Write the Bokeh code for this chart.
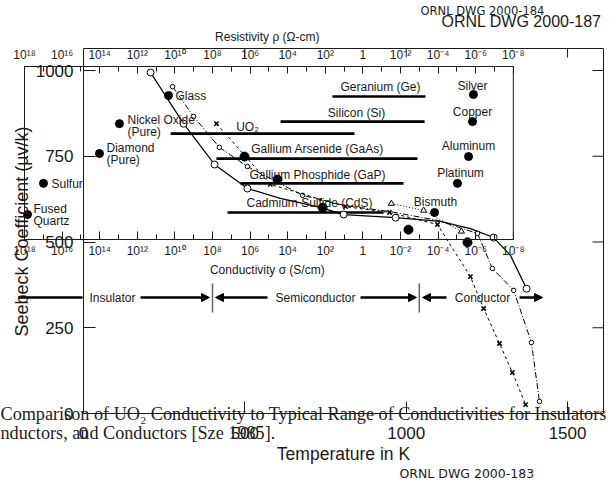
import math
from bokeh.plotting import figure
from bokeh.models import (Range1d, LinearAxis, FixedTicker, Label, Arrow,
                          NormalHead, ColumnDataSource)
from bokeh.embed import file_html
from bokeh.resources import INLINE
from bokeh.core.properties import value

# ---------------- outer chart: UO2 Seebeck coefficient vs temperature ----------------
temp_ticks = [0, 500, 1000, 1500]
seebeck_ticks = [0, 250, 500, 750, 1000]

solid_T = [208, 310, 406, 508, 806, 967, 1271, 1373]
solid_S = [994, 845, 726, 656, 580, 571, 513, 364]
solid_curve_T = [208, 310, 406, 508, 610, 734, 806, 967, 1106, 1199, 1271, 1323, 1373]
solid_curve_S = [994, 845, 726, 656, 627, 601, 580, 571, 560, 539, 513, 461, 364]

dashdot_T = [276, 341, 421, 508, 679, 1221, 1267, 1333, 1388, 1413]
dashdot_S = [953, 866, 776, 720, 636, 525, 423, 359, 207, 35]
dashdot_curve_T = [276, 341, 421, 508, 679, 812, 948, 1097, 1221, 1267, 1333, 1388, 1413]
dashdot_curve_S = [953, 866, 776, 720, 636, 606, 589, 563, 525, 423, 359, 207, 35]

dashed_T = [412, 579, 812, 948, 1097, 1199, 1240, 1289, 1329, 1370]
dashed_S = [845, 668, 603, 586, 551, 399, 306, 204, 120, 26]

dotted_T = [954, 1054, 1171]
dotted_S = [612, 592, 531]

filled_T = [499, 601, 741, 1007, 1190]
filled_S = [749, 682, 600, 536, 499]

# ---------------- inner chart: conductivity ranges (log10 S/cm) ----------------
cond_major = list(range(-8, 19, 2))
cond_minor = list(range(-7, 18, 2))
cond_limits = [18, -8]

material_names = ["Glass", "Nickel Oxide", "Diamond", "Sulfur", "Fused Quartz",
                  "Bismuth", "Platinum", "Silver", "Copper", "Aluminum"]
material_logsig = [10.34, 12.95, 14.01, 16.99, 17.84, -3.81, -5.03, -5.88, -5.83, -5.62]
material_level = [927, 845, 758, 671, 580, 586, 671, 930, 851, 749]

bar_names = ["Geranium (Ge)", "Silicon (Si)", "UO\u2082", "Gallium Arsenide (GaAs)",
             "Gallium Phosphide (GaP)", "Cadmium Sulfide (CdS)"]
bar_lo = [1.62, 4.38, 10.23, 7.79, 6.51, 7.20]
bar_hi = [-3.33, -3.28, 0.45, -2.90, -2.16, -1.10]
bar_level = [924, 851, 816, 743, 671, 586]

regime_names = ["Insulator", "Semiconductor", "Conductor"]
regime_edges = [8, -3]

# ---------------- page-pixel helpers (placement of texts and ranges) ----------------
def T_at(px):
    return (px - 83.0) / 0.3227

def S_at(py):
    return (413.0 - py) / 0.343

def L_at(px):
    return 18.0 - (px - 24.0) / 18.8

FONT = "Liberation Sans"
WIDE = "DejaVu Sans"
SERIF = "Liberation Serif"
INK = "#1a1a1a"

W, H = 609, 482
x_end = T_at(603)
y_top = S_at(48)

p = figure(width=W, height=H, output_backend="svg", toolbar_location=None,
           x_axis_type=None, y_axis_type=None,
           x_range=Range1d(T_at(0), T_at(W)), y_range=Range1d(S_at(H), S_at(0)),
           min_border_left=0, min_border_right=0, min_border_top=0, min_border_bottom=0)
p.outline_line_color = None
p.background_fill_color = "white"
p.border_fill_color = "white"
p.extra_x_ranges = {"cond": Range1d(L_at(0), L_at(W))}


def style(ax, size):
    ax.major_label_text_font = FONT
    ax.major_label_text_font_size = size
    ax.major_label_text_color = INK
    ax.axis_line_color = INK
    ax.major_tick_line_color = INK
    ax.minor_tick_line_color = INK
    ax.axis_label_text_font = FONT
    ax.axis_label_text_font_style = "normal"
    ax.axis_label_text_color = INK

# outer axes (left and bottom with labels)
left = LinearAxis(fixed_location=0, bounds=(0, y_top), ticker=FixedTicker(ticks=seebeck_ticks),
                  major_tick_in=12, major_tick_out=0, minor_tick_in=0, minor_tick_out=0,
                  major_label_standoff=10)
style(left, "17px")
p.add_layout(left, "left")

bottom = LinearAxis(fixed_location=0, bounds=(0, x_end), ticker=FixedTicker(ticks=temp_ticks),
                    major_tick_in=12, major_tick_out=0, minor_tick_in=0, minor_tick_out=0,
                    major_label_standoff=13, axis_label="Temperature in K",
                    axis_label_standoff=2)
style(bottom, "17px")
bottom.axis_label_text_font_size = "17.5px"
p.add_layout(bottom, "below")

# outer top and right frame lines with inward ticks
p.segment(x0=[0], y0=[y_top], x1=[x_end], y1=[y_top], line_color=INK, line_width=1)
p.segment(x0=[x_end], y0=[0], x1=[x_end], y1=[y_top], line_color=INK, line_width=1)
p.segment(x0=temp_ticks[1:], y0=[y_top] * 3, x1=temp_ticks[1:], y1=[y_top - 9 / 0.343] * 3,
          line_color=INK, line_width=1)
p.segment(x0=[x_end] * 4, y0=seebeck_ticks[1:], x1=[x_end - 11 / 0.3227] * 4, y1=seebeck_ticks[1:],
          line_color=INK, line_width=1)

# inner (conductivity) axes
sup = str.maketrans("0123456789-", "\u2070\u00b9\u00b2\u00b3\u2074\u2075\u2076\u2077\u2078\u2079\u207b")
cond_labels = {v: ("1" if v == 0 else "10" + str(v).translate(sup)) for v in cond_major}

inner_bottom = LinearAxis(x_range_name="cond", fixed_location=S_at(239), bounds=(-8, 18),
                          ticker=FixedTicker(ticks=cond_major, minor_ticks=cond_minor),
                          major_tick_in=8, major_tick_out=0, minor_tick_in=5, minor_tick_out=0,
                          major_label_standoff=4, major_label_overrides=cond_labels,
                          axis_label="Conductivity  \u03c3 (S/cm)", axis_label_standoff=2)
style(inner_bottom, "12px")
inner_bottom.axis_label_text_font_size = "12px"
p.add_layout(inner_bottom, "below")

inner_top = LinearAxis(x_range_name="cond", fixed_location=S_at(66), bounds=(-8, 18),
                       ticker=FixedTicker(ticks=cond_major, minor_ticks=cond_minor),
                       major_tick_in=7, major_tick_out=0, minor_tick_in=5, minor_tick_out=0,
                       major_label_standoff=5, major_label_overrides=cond_labels,
                       axis_label="Resistivity  \u03c1 (\u03a9-cm)", axis_label_standoff=1)
style(inner_top, "12px")
inner_top.axis_label_text_font_size = "12px"
p.add_layout(inner_top, "above")

# inner frame sides
p.segment(x0=cond_limits, y0=[S_at(239)] * 2, x1=cond_limits, y1=[S_at(66)] * 2,
          x_range_name="cond", line_color=INK, line_width=1)

# conductivity range bars
p.segment(x0=bar_lo, y0=bar_level, x1=bar_hi, y1=bar_level, x_range_name="cond",
          line_color="black", line_width=2.6)

# material dots
p.scatter(material_logsig, material_level, x_range_name="cond", marker="circle",
          size=8, fill_color="black", line_color="black")

# regime separators and arrows
sep_lo, sep_hi = S_at(312), S_at(283)
p.segment(x0=regime_edges, y0=[sep_lo] * 2, x1=regime_edges, y1=[sep_hi] * 2,
          x_range_name="cond", line_color="#666666", line_width=1.5)
ya = S_at(297)
arrow_from = [L_at(18), L_at(140), L_at(267), L_at(360), L_at(446), L_at(519)]
arrow_to = [L_at(82), L_at(209), L_at(215), L_at(416), L_at(422), L_at(542)]
arrow_head = [False, True, True, True, True, True]
for xa, xb, h in zip(arrow_from, arrow_to, arrow_head):
    p.add_layout(Arrow(x_start=xa, y_start=ya, x_end=xb, y_end=ya, x_range_name="cond",
                       line_width=2.6, line_color="black",
                       end=NormalHead(size=8, fill_color="black", line_color="black") if h else None))

# UO2 curves
p.line(solid_curve_T, solid_curve_S, line_color="black", line_width=1.2)
p.scatter(solid_T, solid_S, marker="circle", size=7, fill_color="white", line_color="black")
p.line(dashdot_curve_T, dashdot_curve_S, line_color="black", line_width=1, line_dash="6 2 1 2")
p.scatter(dashdot_T, dashdot_S, marker="circle", size=4.5, fill_color="white", line_color="black")
p.line(dashed_T, dashed_S, line_color="black", line_width=1, line_dash="3 3")
p.scatter(dashed_T, dashed_S, marker="x", size=6, line_color="black", line_width=1.6)
p.line(dotted_T, dotted_S, line_color="black", line_width=1, line_dash="1 2")
p.scatter(dotted_T, dotted_S, marker="triangle", size=6, fill_color="white", line_color="black")
p.scatter(filled_T, filled_S, marker="circle", size=9, fill_color="black", line_color="black")

# texts of the inner chart
left_txt = [("Glass", 175, 95), ("Nickel Oxide", 127, 119), ("(Pure)", 127, 131),
            ("Diamond", 106, 147), ("(Pure)", 106, 159), ("Sulfur", 51, 183),
            ("Fused", 33, 208), ("Quartz", 33, 220)]
center_txt = [("Silver", 472, 85), ("Copper", 472, 111), ("Aluminum", 468, 145),
              ("Platinum", 460, 172), ("Bismuth", 435, 201),
              (bar_names[0], 380, 86), (bar_names[1], 356, 112), (bar_names[2], 247, 126),
              (bar_names[3], 317, 148), (bar_names[4], 317, 174), (bar_names[5], 309, 202),
              (regime_names[0], 112, 297), (regime_names[1], 315, 297), (regime_names[2], 482, 297)]

src_l = ColumnDataSource(dict(x=[L_at(a) for _, a, _ in left_txt], y=[S_at(b) for _, _, b in left_txt],
                              t=[s for s, _, _ in left_txt]))
src_c = ColumnDataSource(dict(x=[L_at(a) for _, a, _ in center_txt], y=[S_at(b) for _, _, b in center_txt],
                              t=[s for s, _, _ in center_txt]))
p.text(x="x", y="y", text="t", source=src_l, x_range_name="cond", text_font=value(FONT),
       text_font_size="12px", text_align="left", text_baseline="middle", text_color=INK)
p.text(x="x", y="y", text="t", source=src_c, x_range_name="cond", text_font=value(FONT),
       text_font_size="12px", text_align="center", text_baseline="middle", text_color=INK)

# y-axis title
p.add_layout(Label(x=T_at(21), y=S_at(231), text="Seebeck Coefficient (\u00b5v/k)", angle=math.pi / 2,
                   text_align="center", text_baseline="middle", text_font=FONT,
                   text_font_size="18px", text_color=INK))

# drawing numbers
p.add_layout(Label(x=T_at(420), y=S_at(10), text="ORNL DWG 2000-184", text_baseline="middle",
                   text_font=WIDE, text_font_size="11.5px", text_color=INK))
p.add_layout(Label(x=T_at(441), y=S_at(21), text="ORNL DWG 2000-187", text_baseline="middle",
                   text_font=FONT, text_font_size="16px", text_color=INK))
p.add_layout(Label(x=T_at(399), y=S_at(473), text="ORNL DWG 2000-183", text_baseline="middle",
                   text_font=WIDE, text_font_size="12.5px", text_color=INK))

# caption
p.add_layout(Label(x=T_at(0), y=S_at(413), text="Comparison of UO\u2082 Conductivity to Typical Range of Conductivities for Insulators",
                   text_baseline="middle", text_font=SERIF, text_font_size="18.2px", text_color="#222222"))
p.add_layout(Label(x=T_at(0), y=S_at(432), text="nductors, and Conductors [Sze 1985].",
                   text_baseline="middle", text_font=SERIF, text_font_size="18.2px", text_color="#222222"))

open("out.html", "w").write(file_html(p, INLINE))
